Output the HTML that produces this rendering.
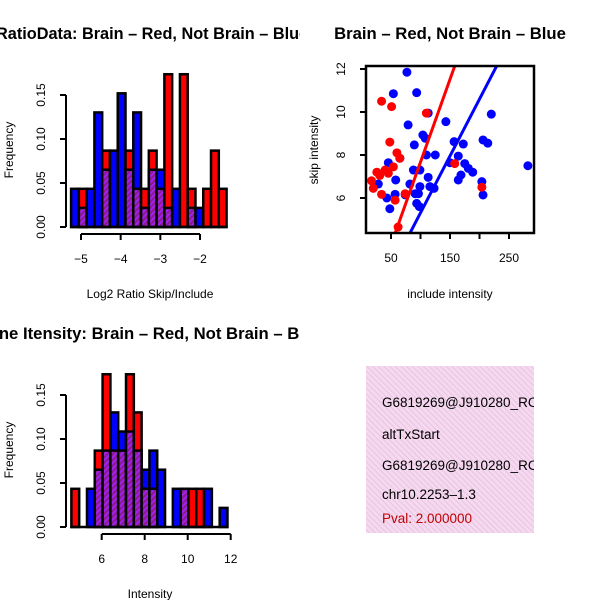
<!DOCTYPE html>
<html><head><meta charset="utf-8"><style>
body{margin:0;background:#fff}
svg{display:block;font-family:"Liberation Sans",sans-serif}
</style></head><body>
<svg id="chart" width="600" height="600" viewBox="0 0 600 600" xmlns="http://www.w3.org/2000/svg">
<defs>
<pattern id="hatch" patternUnits="userSpaceOnUse" width="4" height="4" patternTransform="rotate(45)">
<rect width="4" height="4" fill="#a020f0"/><rect width="2" height="4" fill="#8b1a8b"/>
</pattern>
<pattern id="pink" patternUnits="userSpaceOnUse" width="4" height="4" patternTransform="rotate(-45)">
<rect width="4" height="4" fill="#f8d8f0"/><rect width="1" height="4" fill="#e0c8e0"/>
</pattern>
<clipPath id="leftclip"><rect x="0" y="0" width="300" height="600"/></clipPath>
</defs>
<g clip-path="url(#leftclip)">
<text x="-4" y="39" text-anchor="start" font-size="16.3" font-weight="bold">RatioData: Brain – Red, Not Brain – Blue</text>
<text x="150" y="339" text-anchor="middle" font-size="16.7" font-weight="bold">Gene Itensity: Brain – Red, Not Brain – Blue</text>
</g>
<text x="450" y="39" text-anchor="middle" font-size="16.7" font-weight="bold">Brain – Red, Not Brain – Blue</text>
<g id="h1"></g>
<g id="h2"></g>
<g id="sc"></g>
<g>
<rect x="366" y="366" width="168" height="167" fill="url(#pink)"/>
<svg x="366" y="366" width="168" height="167" overflow="hidden">
<text x="16" y="41" font-size="13.5">G6819269@J910280_RC</text>
<text x="16" y="73" font-size="13.5">altTxStart</text>
<text x="16" y="104" font-size="13.5">G6819269@J910280_RC</text>
<text x="16" y="133" font-size="13.5">chr10.2253–1.3</text>
<text x="16" y="157" font-size="13.5" fill="#c00000">Pval: 2.000000</text>
</svg>
</g>
</svg>
<script>
const NS="http://www.w3.org/2000/svg";
const ratioBinStart=-5.25, ratioBinWidth=0.196;
const ratioRed =[0,2,0,0,4,0,0,4,2,2,4,2,8,0,8,2,0,2,4,2];
const ratioBlue=[2,1,2,6,3,4,7,3,6,1,3,3,1,2,0,1,1,0,0,0];
const ratioXTicks=[-5,-4,-3,-2];
const freqTicks=[0,0.05,0.10,0.15];
const freqLabels=["0.00","0.05","0.10","0.15"];
const intBinStart=4.59, intBinWidth=0.363;
const intRed =[2,0,0,4,8,4,4,8,6,2,2,0,0,0,2,2,2,0,0,0];
const intBlue=[0,0,2,3,4,6,5,5,4,3,4,3,0,2,2,0,0,2,0,1];
const intXTicks=[6,8,10,12];
const countUnit=0.0217;
const redX=[34,51,48,60,65,26,40,31,45.5,54,17,20,34,57,74,62,158,204,110];
const redY=[10.5,10.25,8.6,8.1,7.85,7.2,7.3,7.05,7.15,7.45,6.8,6.45,6.17,5.9,6.2,4.65,7.6,6.5,9.95];
const blueX=[77,54,93.5,113,143,79,104,108,89.5,157,172.5,206,214,220,65,45.5,110,125,164,150,175,181,188.5,88,99,58,28.5,82,113,99,116,123,168.6,164,204,43,57,74,91,96.5,93.5,98,48,206,282];
const blueY=[11.85,10.85,10.9,9.95,9.55,9.4,8.93,8.78,8.47,8.62,8.51,8.7,8.55,9.9,7.85,7.64,8.0,8.0,7.95,7.64,7.6,7.38,7.2,7.3,7.3,6.84,6.65,6.65,6.96,6.53,6.53,6.45,7.07,6.84,6.76,6.0,6.17,6.15,6.2,6.2,5.75,5.6,5.5,6.14,7.5];
const lineRed=[-0.03,0.077];
const lineBlue=[0.02,0.0529];
const scXTicks=[50,100,150,200,250];
const scXLabels=["50","","150","","250"];
const scYTicks=[6,8,10,12];

function el(tag,attrs,parent,text){const e=document.createElementNS(NS,tag);for(const k in attrs)e.setAttribute(k,attrs[k]);if(text!==undefined)e.textContent=text;parent.appendChild(e);return e;}

function hist(g,start,w,red,blue,xs,ys,ticks,xlab,x0,x1){
  const sx=v=>x0+(v-ticks[0])*(x1-x0)/(ticks[ticks.length-1]-ticks[0]);
  const base=ys, sy=f=>base-f*(44/0.05);
  for(let i=0;i<red.length;i++){
    const a=sx(start+i*w), b=sx(start+(i+1)*w);
    const r=red[i]*countUnit, bl=blue[i]*countUnit;
    const hi=Math.max(r,bl), lo=Math.min(r,bl);
    if(hi>0){const c=el('rect',{x:a,y:sy(hi),width:b-a,height:sy(0)-sy(hi),fill:r>=bl?'#ff0000':'#0000ff',stroke:'#000','stroke-width':2.5},g);
      
      }
    if(lo>0){const p=el('rect',{x:a,y:sy(lo),width:b-a,height:sy(0)-sy(lo),fill:'url(#hatch)',stroke:'#000','stroke-width':2.5},g);
      
      }
  }
  el('line',{x1:sx(start)-1,y1:base,x2:sx(start+red.length*w)+1,y2:base,stroke:'#000','stroke-width':2.5},g);
  el('line',{x1:66,y1:sy(freqTicks[0]),x2:66,y2:sy(freqTicks[3]),stroke:'#000','stroke-width':2},g);
  freqTicks.forEach((f,i)=>{el('line',{x1:60,y1:sy(f),x2:66,y2:sy(f),stroke:'#000','stroke-width':2},g);
    const t=el('text',{x:45,y:sy(f),'text-anchor':'middle','font-size':12,transform:`rotate(-90 45 ${sy(f)})`},g,freqLabels[i]);
    });
  const yl=el('text',{x:13,y:base-77,'text-anchor':'middle','font-size':12,transform:`rotate(-90 13 ${base-77})`},g,'Frequency');
  
  const ay=base+7;
  el('line',{x1:sx(ticks[0]),y1:ay,x2:sx(ticks[ticks.length-1]),y2:ay,stroke:'#000','stroke-width':2},g);
  ticks.forEach(v=>{el('line',{x1:sx(v),y1:ay,x2:sx(v),y2:ay+6,stroke:'#000','stroke-width':2},g);
    const t=el('text',{x:sx(v),y:ay+29,'text-anchor':'middle','font-size':12},g,String(v).replace('-','−'));
    });
  const xl=el('text',{x:150,y:base+71,'text-anchor':'middle','font-size':12},g,xlab);
  
}
hist(document.getElementById('h1'),ratioBinStart,ratioBinWidth,ratioRed,ratioBlue,0,227,ratioXTicks,'Log2 Ratio Skip/Include',81,200);
hist(document.getElementById('h2'),intBinStart,intBinWidth,intRed,intBlue,0,527,intXTicks,'Intensity',101.7,230.7);

(function(){
  const g=document.getElementById('sc');
  const L=366,R=534,T=66,B=233;
  const sx=v=>391+(v-50)*0.59, sy=v=>198-(v-6)*21.5;
  const ix=px=>50+(px-391)/0.59;
  const clip=el('clipPath',{id:'scclip'},g);el('rect',{x:L,y:T,width:R-L,height:B-T},clip);
  const inner=el('g',{'clip-path':'url(#scclip)'},g);
  blueX.forEach((x,i)=>{const c=el('circle',{cx:sx(x),cy:sy(blueY[i]),r:4.5,fill:'#0000ff'},inner);
    });
  redX.forEach((x,i)=>{const c=el('circle',{cx:sx(x),cy:sy(redY[i]),r:4.5,fill:'#ff0000'},inner);
    });
  [[lineRed,'#ff0000','fit-line-red'],[lineBlue,'#0000ff','fit-line-blue']].forEach(([p,col,n])=>{
    const xa=ix(L),xb=ix(R);
    const l=el('line',{x1:sx(xa),y1:sy(p[0]+p[1]*xa),x2:sx(xb),y2:sy(p[0]+p[1]*xb),stroke:col,'stroke-width':3},inner);
    });
  el('rect',{x:L,y:T,width:R-L,height:B-T,fill:'none',stroke:'#000','stroke-width':2.5},g);
  scXTicks.forEach((v,i)=>{el('line',{x1:sx(v),y1:B,x2:sx(v),y2:B+6,stroke:'#000','stroke-width':2},g);
    if(scXLabels[i]){const t=el('text',{x:sx(v),y:B+29,'text-anchor':'middle','font-size':12},g,scXLabels[i]);
      }});
  scYTicks.forEach(v=>{el('line',{x1:L-6,y1:sy(v),x2:L,y2:sy(v),stroke:'#000','stroke-width':2},g);
    const t=el('text',{x:345,y:sy(v),'text-anchor':'middle','font-size':12,transform:`rotate(-90 345 ${sy(v)})`},g,String(v));
    });
  const xl=el('text',{x:450,y:298,'text-anchor':'middle','font-size':12},g,'include intensity');
  
  const yl=el('text',{x:318,y:150,'text-anchor':'middle','font-size':12,transform:'rotate(-90 318 150)'},g,'skip intensity');
  
})();
</script>
</body></html>
